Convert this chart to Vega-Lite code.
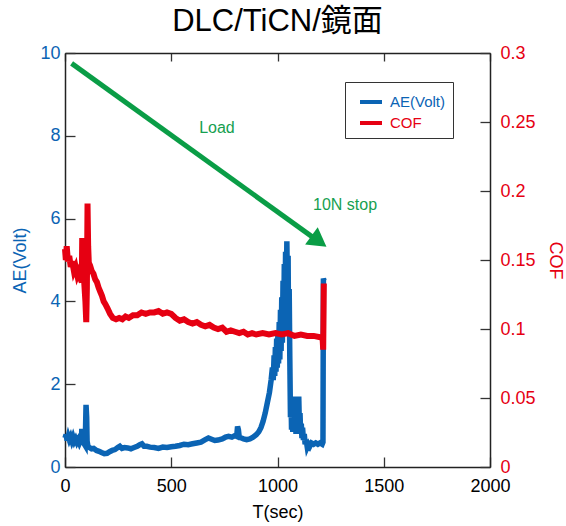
{
  "$schema": "https://vega.github.io/schema/vega-lite/v6.json",
  "width": 425,
  "height": 414,
  "autosize": {"type": "none"},
  "padding": {"left": 65, "top": 53, "right": 76, "bottom": 59},
  "background": "white",
  "title": {
    "text": "DLC/TiCN/鏡面",
    "font": "Liberation Sans, Noto Sans CJK JP, sans-serif",
    "fontSize": 31,
    "fontWeight": "normal",
    "color": "#000000",
    "anchor": "middle",
    "baseline": "alphabetic",
    "offset": -18
  },
  "config": {
    "view": {"stroke": null},
    "axis": {
      "grid": false,
      "domainColor": "#222222",
      "domainWidth": 1.5,
      "tickColor": "#333333",
      "tickWidth": 1.3,
      "labelFont": "Liberation Sans",
      "labelFontSize": 18,
      "titleFont": "Liberation Sans",
      "titleFontSize": 18,
      "titleFontWeight": "normal",
      "labelFlush": false
    }
  },
  "datasets": {
    "ae": [
      {"t":0,"v":0.7},{"t":5,"v":0.78},{"t":10,"v":0.64},{"t":15,"v":0.74},{"t":20,"v":0.66},{"t":26,"v":0.73},{"t":32,"v":0.63},{"t":38,"v":0.72},{"t":44,"v":0.62},{"t":50,"v":0.68},{"t":56,"v":0.6},{"t":62,"v":0.66},{"t":68,"v":0.58},{"t":73,"v":0.64},{"t":77,"v":0.55},{"t":79,"v":0.92},{"t":82,"v":0.6},{"t":88,"v":0.58},{"t":95,"v":0.52},{"t":99,"v":1.5},{"t":102,"v":1.2},{"t":104,"v":0.62},{"t":108,"v":0.5},{"t":115,"v":0.47},{"t":125,"v":0.44},{"t":135,"v":0.45},{"t":148,"v":0.4},{"t":160,"v":0.38},{"t":172,"v":0.35},{"t":185,"v":0.32},{"t":198,"v":0.33},{"t":210,"v":0.37},{"t":222,"v":0.4},{"t":235,"v":0.42},{"t":248,"v":0.47},{"t":258,"v":0.5},{"t":268,"v":0.45},{"t":280,"v":0.47},{"t":295,"v":0.46},{"t":310,"v":0.44},{"t":325,"v":0.47},{"t":340,"v":0.5},{"t":352,"v":0.54},{"t":362,"v":0.56},{"t":372,"v":0.5},{"t":385,"v":0.5},{"t":400,"v":0.48},{"t":420,"v":0.47},{"t":440,"v":0.45},{"t":460,"v":0.48},{"t":480,"v":0.47},{"t":500,"v":0.49},{"t":520,"v":0.5},{"t":540,"v":0.52},{"t":560,"v":0.55},{"t":580,"v":0.54},{"t":600,"v":0.56},{"t":620,"v":0.58},{"t":640,"v":0.6},{"t":660,"v":0.66},{"t":675,"v":0.7},{"t":690,"v":0.67},{"t":705,"v":0.64},{"t":720,"v":0.65},{"t":740,"v":0.68},{"t":755,"v":0.72},{"t":770,"v":0.74},{"t":785,"v":0.72},{"t":800,"v":0.76},{"t":808,"v":0.74},{"t":812,"v":0.98},{"t":816,"v":0.9},{"t":820,"v":0.72},{"t":830,"v":0.7},{"t":840,"v":0.68},{"t":855,"v":0.66},{"t":870,"v":0.68},{"t":885,"v":0.72},{"t":900,"v":0.78},{"t":912,"v":0.85},{"t":922,"v":0.95},{"t":932,"v":1.1},{"t":942,"v":1.3},{"t":952,"v":1.55},{"t":962,"v":1.8},{"t":970,"v":2.1},{"t":976,"v":2.4},{"t":980,"v":2.1},{"t":984,"v":2.7},{"t":987,"v":2.2},{"t":990,"v":2.9},{"t":993,"v":2.3},{"t":996,"v":3.1},{"t":999,"v":2.4},{"t":1002,"v":3.3},{"t":1005,"v":2.5},{"t":1008,"v":3.5},{"t":1011,"v":2.6},{"t":1014,"v":3.8},{"t":1017,"v":2.8},{"t":1020,"v":4.1},{"t":1023,"v":3.0},{"t":1026,"v":4.5},{"t":1029,"v":3.2},{"t":1032,"v":4.9},{"t":1035,"v":3.5},{"t":1038,"v":5.2},{"t":1041,"v":3.9},{"t":1044,"v":5.45},{"t":1047,"v":4.3},{"t":1050,"v":5.1},{"t":1052,"v":3.2},{"t":1055,"v":4.3},{"t":1058,"v":2.6},{"t":1061,"v":1.2},{"t":1064,"v":1.6},{"t":1066,"v":0.9},{"t":1069,"v":1.5},{"t":1072,"v":0.85},{"t":1075,"v":1.4},{"t":1078,"v":1.7},{"t":1081,"v":0.9},{"t":1084,"v":1.3},{"t":1087,"v":0.8},{"t":1090,"v":1.2},{"t":1093,"v":0.8},{"t":1097,"v":1.4},{"t":1100,"v":1.7},{"t":1103,"v":1.0},{"t":1106,"v":1.3},{"t":1109,"v":0.8},{"t":1112,"v":1.05},{"t":1115,"v":0.7},{"t":1118,"v":0.95},{"t":1122,"v":0.65},{"t":1126,"v":0.8},{"t":1130,"v":0.55},{"t":1135,"v":0.65},{"t":1140,"v":0.48},{"t":1146,"v":0.55},{"t":1152,"v":0.5},{"t":1160,"v":0.58},{"t":1170,"v":0.55},{"t":1180,"v":0.58},{"t":1190,"v":0.55},{"t":1200,"v":0.58},{"t":1210,"v":0.55},{"t":1214,"v":0.6},{"t":1216,"v":4.55},{"t":1219,"v":4.5}
    ],
    "cof": [
      {"t":0,"v":0.158},{"t":4,"v":0.15},{"t":8,"v":0.16},{"t":14,"v":0.149},{"t":20,"v":0.153},{"t":27,"v":0.145},{"t":34,"v":0.149},{"t":42,"v":0.142},{"t":50,"v":0.145},{"t":58,"v":0.139},{"t":66,"v":0.142},{"t":74,"v":0.136},{"t":79,"v":0.134},{"t":81,"v":0.166},{"t":84,"v":0.138},{"t":90,"v":0.135},{"t":96,"v":0.12},{"t":100,"v":0.105},{"t":103,"v":0.13},{"t":106,"v":0.191},{"t":109,"v":0.16},{"t":112,"v":0.148},{"t":118,"v":0.146},{"t":126,"v":0.142},{"t":134,"v":0.14},{"t":142,"v":0.136},{"t":150,"v":0.134},{"t":158,"v":0.13},{"t":166,"v":0.127},{"t":174,"v":0.124},{"t":182,"v":0.12},{"t":190,"v":0.118},{"t":200,"v":0.115},{"t":212,"v":0.111},{"t":225,"v":0.108},{"t":240,"v":0.107},{"t":255,"v":0.108},{"t":270,"v":0.107},{"t":285,"v":0.109},{"t":300,"v":0.108},{"t":320,"v":0.11},{"t":340,"v":0.11},{"t":360,"v":0.112},{"t":380,"v":0.111},{"t":400,"v":0.112},{"t":420,"v":0.112},{"t":440,"v":0.113},{"t":460,"v":0.111},{"t":480,"v":0.112},{"t":500,"v":0.111},{"t":520,"v":0.108},{"t":540,"v":0.106},{"t":560,"v":0.107},{"t":580,"v":0.105},{"t":600,"v":0.104},{"t":620,"v":0.105},{"t":640,"v":0.103},{"t":660,"v":0.102},{"t":680,"v":0.103},{"t":700,"v":0.101},{"t":720,"v":0.1},{"t":740,"v":0.101},{"t":760,"v":0.098},{"t":780,"v":0.099},{"t":800,"v":0.098},{"t":820,"v":0.097},{"t":840,"v":0.098},{"t":860,"v":0.096},{"t":880,"v":0.097},{"t":900,"v":0.096},{"t":930,"v":0.097},{"t":960,"v":0.096},{"t":990,"v":0.097},{"t":1020,"v":0.096},{"t":1050,"v":0.097},{"t":1080,"v":0.095},{"t":1110,"v":0.096},{"t":1140,"v":0.095},{"t":1170,"v":0.095},{"t":1200,"v":0.094},{"t":1212,"v":0.094},{"t":1215,"v":0.085},{"t":1218,"v":0.133}
    ],
    "arrow": [{"t": 31, "v": 9.75, "t2": 1185, "v2": 5.48}],
    "head": [{"t": 1195, "v": 5.45}],
    "notes": [
      {"t": 715, "v": 8.19, "label": "Load"},
      {"t": 1318, "v": 6.33, "label": "10N stop"}
    ]
  },
  "layer": [
    {
      "layer": [
        {
          "data": {"name": "ae"},
          "transform": [{"calculate": "'AE(Volt)'", "as": "series"}],
          "mark": {"type": "line", "strokeWidth": 5.5, "strokeJoin": "miter"},
          "encoding": {
            "x": {
              "field": "t", "type": "quantitative",
              "scale": {"domain": [0, 2000], "nice": false},
              "axis": {
                "orient": "bottom", "title": "T(sec)", "values": [0, 500, 1000, 1500, 2000],
                "format": "d", "tickSize": -10, "labelPadding": 20, "titlePadding": 8,
                "labelColor": "#000000", "titleColor": "#000000"
              }
            },
            "y": {
              "field": "v", "type": "quantitative",
              "scale": {"domain": [0, 10], "nice": false},
              "axis": {
                "orient": "left", "title": "AE(Volt)", "values": [0, 2, 4, 6, 8, 10],
                "tickSize": -10, "labelPadding": 15, "titlePadding": 10,
                "labelColor": "#0b64b4", "titleColor": "#0b64b4"
              }
            },
            "color": {
              "field": "series", "type": "nominal",
              "scale": {"domain": ["AE(Volt)", "COF"], "range": ["#0b64b4", "#e60012"]},
              "legend": {
                "orient": "none", "legendX": 280, "legendY": 29, "title": null,
                "symbolType": "stroke", "symbolStrokeWidth": 4, "symbolSize": 484,
                "symbolOffset": 6, "labelOffset": 6, "labelFontSize": 15,
                "labelFont": "Liberation Sans", "padding": 7, "rowPadding": 0,
                "strokeColor": "#333333", "fillColor": "white",
                "labelExpr": "datum.label + '\u00a0\u00a0\u00a0\u00a0\u00a0\u00a0\u00a0'",
                "encode": {"labels": {"update": {"fill": {"signal": "datum.value === 'COF' ? '#e60012' : '#0b64b4'"}}}}
              }
            }
          }
        },
        {
          "data": {"name": "arrow"},
          "mark": {"type": "rule", "color": "#0a9d46", "strokeWidth": 5},
          "encoding": {
            "x": {"field": "t", "type": "quantitative", "scale": {"domain": [0, 2000], "nice": false}},
            "x2": {"field": "t2"},
            "y": {"field": "v", "type": "quantitative"},
            "y2": {"field": "v2"}
          }
        },
        {
          "data": {"name": "head"},
          "mark": {"type": "point", "shape": "triangle-right", "filled": true, "color": "#0a9d46", "opacity": 1, "size": 460, "angle": 36},
          "encoding": {
            "x": {"field": "t", "type": "quantitative", "scale": {"domain": [0, 2000], "nice": false}},
            "y": {"field": "v", "type": "quantitative"}
          }
        },
        {
          "data": {"name": "notes"},
          "mark": {"type": "text", "color": "#16a050", "fontSize": 16, "font": "Liberation Sans", "align": "center", "baseline": "middle"},
          "encoding": {
            "x": {"field": "t", "type": "quantitative", "scale": {"domain": [0, 2000], "nice": false}},
            "y": {"field": "v", "type": "quantitative"},
            "text": {"field": "label"}
          }
        }
      ]
    },
    {
      "data": {"name": "cof"},
      "transform": [{"calculate": "'COF'", "as": "series"}],
      "mark": {"type": "line", "strokeWidth": 6, "strokeJoin": "miter"},
      "encoding": {
        "x": {
          "field": "t", "type": "quantitative",
          "scale": {"domain": [0, 2000], "nice": false},
          "axis": {
            "orient": "top", "title": null, "labels": false, "values": [0, 500, 1000, 1500, 2000],
            "tickSize": -8
          }
        },
        "y": {
          "field": "v", "type": "quantitative",
          "scale": {"domain": [0, 0.3], "nice": false},
          "axis": {
            "orient": "right", "title": "COF", "values": [0, 0.05, 0.1, 0.15, 0.2, 0.25, 0.3],
            "format": "~g", "tickSize": -10, "labelPadding": 20, "titlePadding": 10,
            "labelColor": "#e60012", "titleColor": "#e60012"
          }
        },
        "color": {"field": "series", "type": "nominal"}
      }
    }
  ],
  "resolve": {"scale": {"y": "independent"}, "axis": {"x": "independent", "y": "independent"}}
}
